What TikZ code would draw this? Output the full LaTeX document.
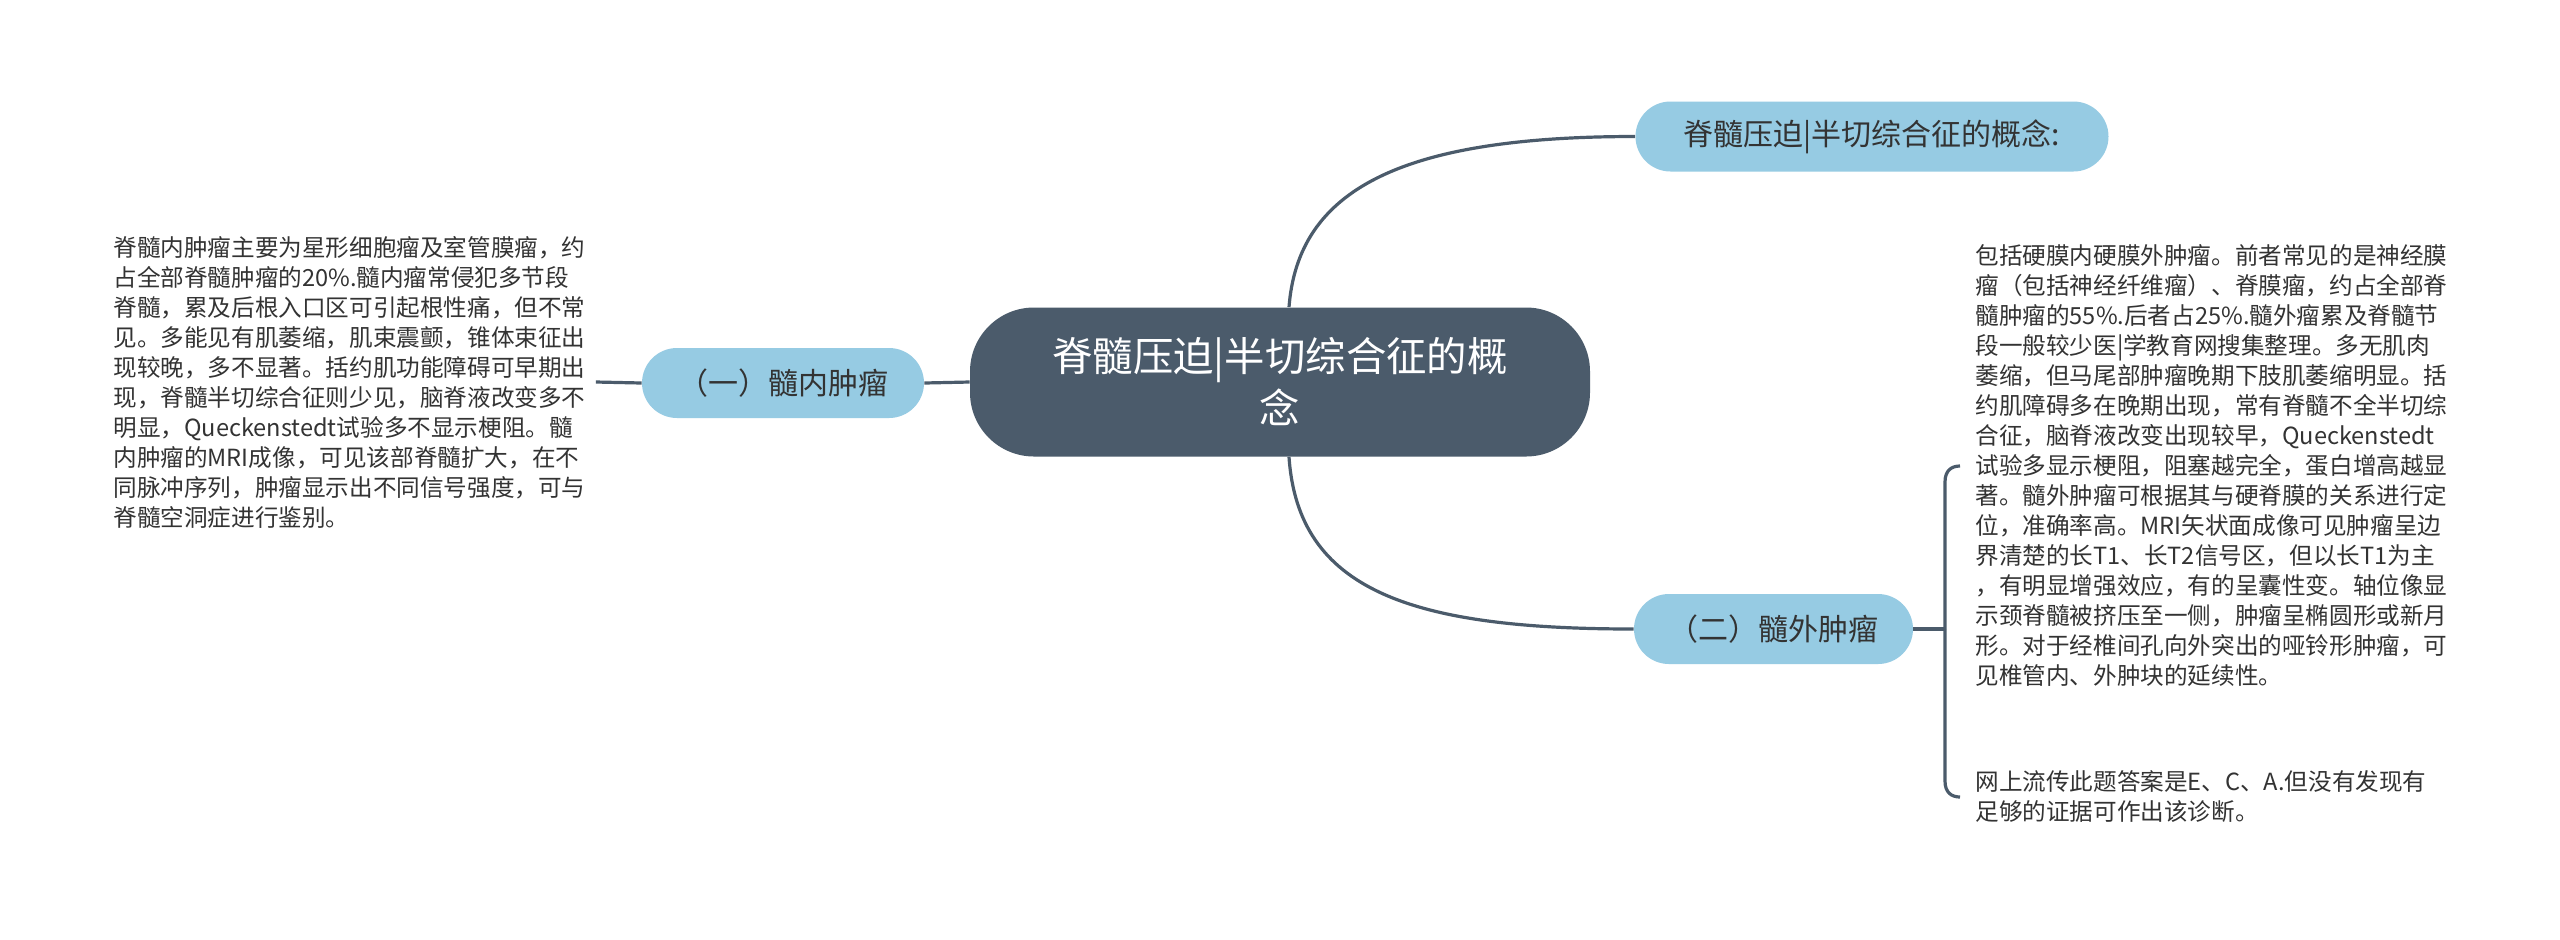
\documentclass[tikz,border=0pt]{standalone}
\usepackage{fontspec}
\newfontfamily\cjk{Noto Sans CJK SC}
\usetikzlibrary{calc}
\definecolor{slate}{HTML}{4B5B6B}
\definecolor{lblue}{HTML}{96CBE3}
\definecolor{txt}{HTML}{333333}
\begin{document}
\begin{tikzpicture}[x=0.5pt,y=-0.5pt,
 conn/.style={draw=slate,line width=1.6pt},
 root/.style={fill=slate,text=white,rounded corners=32pt,minimum width=310pt,minimum height=74.5pt,align=center,inner sep=0pt,font=\cjk\fontsize{20.2pt}{26pt}\selectfont},
 branch/.style={fill=lblue,text=txt,rounded corners=17.5pt,minimum height=35pt,inner sep=0pt,font=\cjk\fontsize{15pt}{18pt}\selectfont},
 body/.style={text=txt,align=left,inner ysep=0pt,font=\cjk\fontsize{11.8pt}{15pt}\selectfont}]
\useasboundingbox[fill=white] (0,0) rectangle (2560,939);

\node[root] (root) at (1280,382) {脊髓压迫|半切综合征的概\\念};
\node[branch,minimum width=236.5pt] (tn) at (1872,136.5) {脊髓压迫|半切综合征的概念:};
\node[branch,minimum width=141pt] (ln) at (783,383) {（一）髓内肿瘤};
\node[branch,minimum width=139.5pt] (bn) at (1773.5,629) {（二）髓外肿瘤};

\node[body,anchor=west,inner xsep=5pt] (lt) at (103,382) {脊髓内肿瘤主要为星形细胞瘤及室管膜瘤，约\\占全部脊髓肿瘤的20\%.髓内瘤常侵犯多节段\\脊髓，累及后根入口区可引起根性痛，但不常\\见。多能见有肌萎缩，肌束震颤，锥体束征出\\现较晚，多不显著。括约肌功能障碍可早期出\\现，脊髓半切综合征则少见，脑脊液改变多不\\明显，Queckenstedt试验多不显示梗阻。髓\\内肿瘤的MRI成像，可见该部脊髓扩大，在不\\同脉冲序列，肿瘤显示出不同信号强度，可与\\脊髓空洞症进行鉴别。};

\node[body,anchor=west,inner xsep=7.5pt] (rt1) at (1960,466) {包括硬膜内硬膜外肿瘤。前者常见的是神经膜\\瘤（包括神经纤维瘤）、脊膜瘤，约占全部脊\\髓肿瘤的55\%.后者占25\%.髓外瘤累及脊髓节\\段一般较少医|学教育网搜集整理。多无肌肉\\萎缩，但马尾部肿瘤晚期下肢肌萎缩明显。括\\约肌障碍多在晚期出现，常有脊髓不全半切综\\合征，脑脊液改变出现较早，Queckenstedt\\试验多显示梗阻，阻塞越完全，蛋白增高越显\\著。髓外肿瘤可根据其与硬脊膜的关系进行定\\位，准确率高。MRI矢状面成像可见肿瘤呈边\\界清楚的长T1、长T2信号区，但以长T1为主\\，有明显增强效应，有的呈囊性变。轴位像显\\示颈脊髓被挤压至一侧，肿瘤呈椭圆形或新月\\形。对于经椎间孔向外突出的哑铃形肿瘤，可\\见椎管内、外肿块的延续性。};

\node[body,anchor=west,inner xsep=7.5pt] (rt2) at (1960,797) {网上流传此题答案是E、C、A.但没有发现有\\足够的证据可作出该诊断。};

\draw[conn] ([xshift=4.5pt]root.north) .. controls (1298,190) and (1400,136.5) .. (tn.west);
\draw[conn] ([xshift=4.5pt]root.south) .. controls (1298,590) and (1410,629) .. (bn.west);
\draw[conn] (root.west) -- (ln.east);
\draw[conn] (ln.west) -- (lt.east);

\coordinate (br) at (1945,629);
\draw[conn] (bn.east) -- (br);
\draw[conn] (br) -- (1945,482) .. controls (1945,470) and (1952,466) .. (rt1.west);
\draw[conn] (br) -- (1945,781) .. controls (1945,793) and (1952,797) .. (rt2.west);
\end{tikzpicture}
\end{document}
